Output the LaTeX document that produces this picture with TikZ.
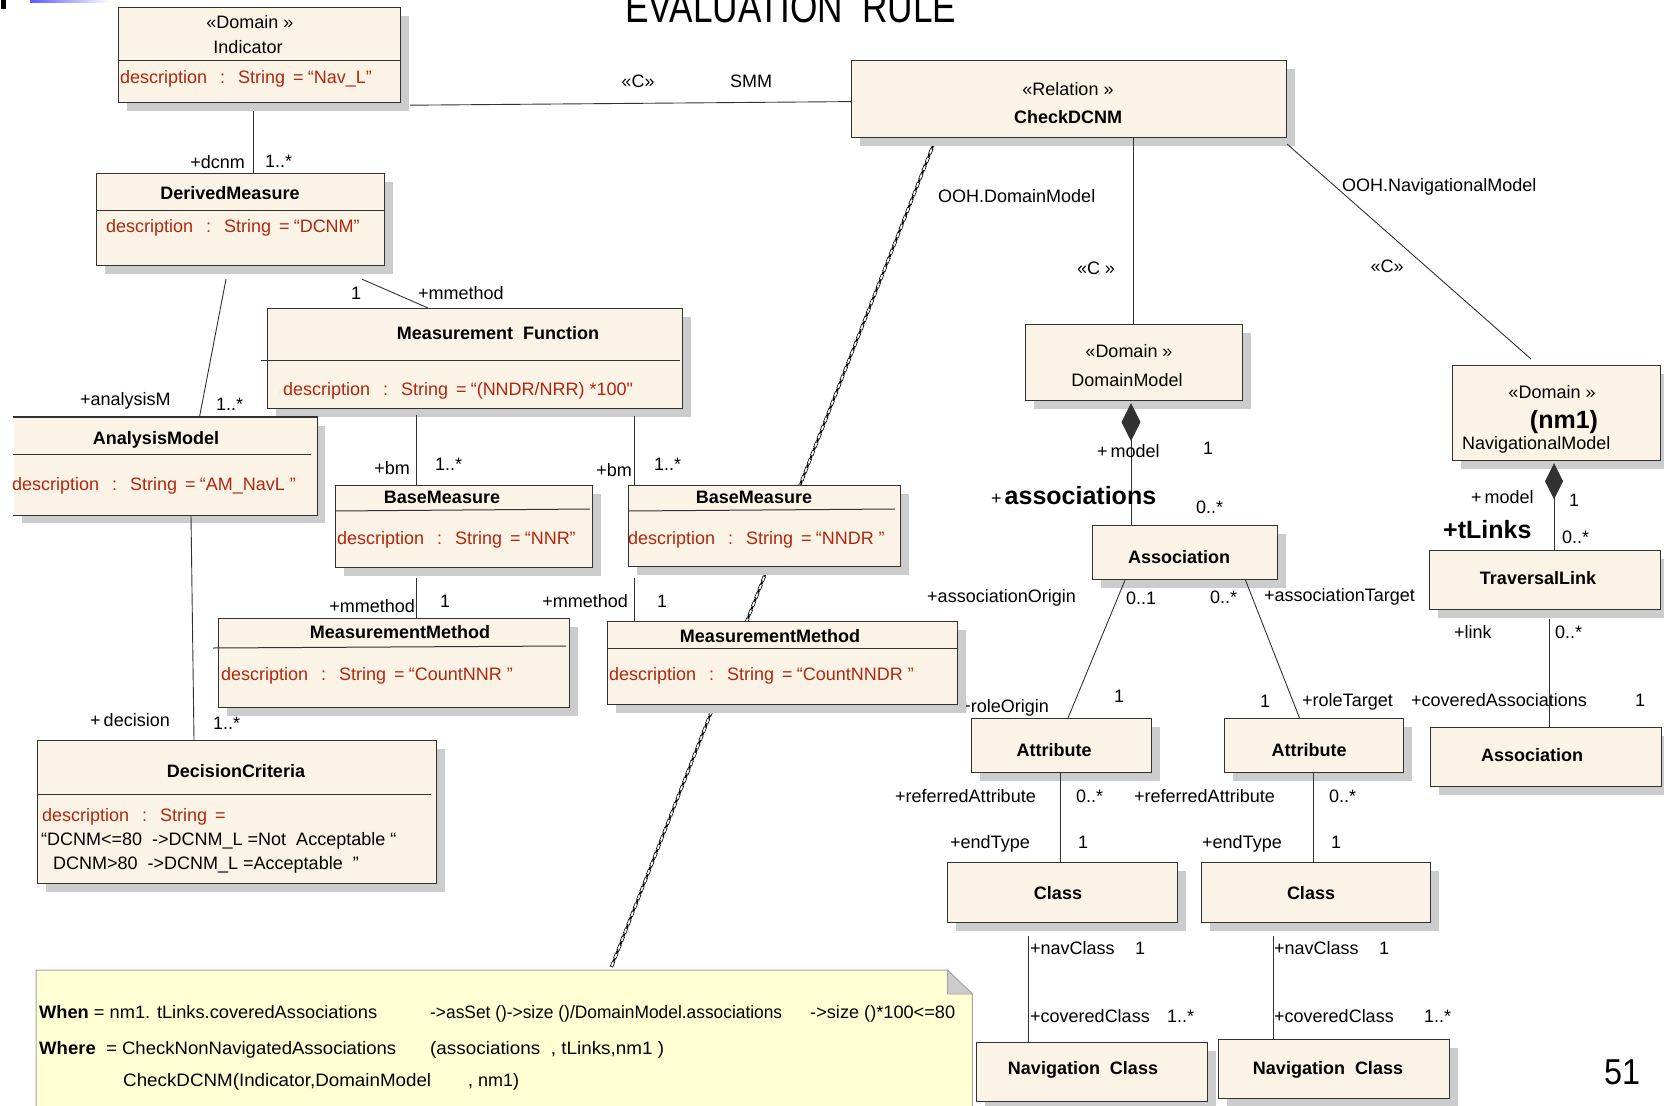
\documentclass[tikz,border=0pt]{standalone}
\usepackage{fontspec}
\usepackage{graphicx}
\setmainfont{Liberation Sans}
\newfontfamily\rawsans{Liberation Sans}
\usetikzlibrary{arrows.meta,shadows,decorations.markings,calc}

\definecolor{boxfill}{RGB}{251,243,230}
\definecolor{boxdraw}{RGB}{50,50,50}
\definecolor{shadowc}{RGB}{204,204,204}
\definecolor{attrred}{RGB}{178,38,14}
\definecolor{notefill}{RGB}{255,255,212}
\definecolor{notedraw}{RGB}{165,165,165}
\definecolor{linec}{RGB}{50,50,50}

\newcommand{\umlfont}{\fontsize{18}{20}\selectfont}
\newcommand{\bigbold}{\fontsize{25}{28}\selectfont\bfseries}
\newcommand{\attrtext}[1]{description\hspace{13pt}:\hspace{13pt}String\hspace{8pt}=\hspace{4pt}#1}
\newcommand{\fitto}[2]{\resizebox{#1}{\height}{#2}}
\newcommand{\straightq}{{\rawsans"}}

\begin{document}
\begin{tikzpicture}[x=1pt,y=-1pt,
  umlbox/.style={draw=boxdraw, fill=boxfill, line width=1.2pt, inner sep=0pt,
    anchor=north west,
    drop shadow={shadow xshift=8pt, shadow yshift=-8pt, fill=shadowc, opacity=1}},
  conn/.style={draw=linec, line width=0.9pt},
  divider/.style={draw=boxdraw, line width=1pt},
  txt/.style={inner sep=0pt, font=\umlfont, text height=14.5pt, text depth=2pt},
  ttl/.style={txt, font=\umlfont\bfseries},
  attr/.style={txt, text=attrred, anchor=west},
  lw/.style={txt, anchor=west},
  le/.style={txt, anchor=east},
  notetxt/.style={txt, anchor=west},
  markline/.style={
    postaction={decorate, decoration={markings,
      mark=between positions 0 and 1 step 9pt with
        {\draw[line width=0.6pt, fill=white] (-2.6pt,-1.3pt) rectangle (2.6pt,1.3pt);}}},
    postaction={decorate, decoration={markings,
      mark=between positions 4.5pt and 1 step 9pt with
        {\fill (-1.3pt,-1.1pt) rectangle (1.3pt,1.1pt);}}}}
]
\useasboundingbox (0,0) rectangle (1664,1105);

% corner decorations of the slide
\fill[black] (1,0) rectangle (6,9);
\shade[left color=blue!65, right color=white] (30,0) rectangle (110,2.5);

% slide title
\node[anchor=base west, inner sep=0pt, font=\fontsize{44}{48}\selectfont] (title) at (625,23)
  {\scalebox{0.8}[1]{EVALUATION\ \ RULE}};

% note in the lower left
\node[minimum width=936pt, minimum height=145pt, inner sep=0pt, anchor=north west] (note) at (36,970) {};
\filldraw[fill=notefill, draw=notedraw, line width=1pt]
  (note.north west) -- ([xshift=-25pt]note.north east) -- ([yshift=-24pt]note.north east)
  -- (note.south east) -- (note.south west) -- cycle;
\filldraw[fill=shadowc, draw=notedraw, line width=0.8pt]
  ([xshift=-25pt]note.north east) -- ([xshift=-25pt,yshift=-24pt]note.north east)
  -- ([yshift=-24pt]note.north east) -- cycle;

% dependency from the relation down to the note (passes behind the classes)
\coordinate (depA) at (934,143);
\coordinate (depB) at (611,968);
\path[markline] (depA) -- (depB);

% label partly hidden by the shadow of the second measurement method
\node[le] (lroleO) at (1049,706) {+roleOrigin};

% ---------------- classes ----------------
\node[umlbox, minimum width=282pt, minimum height=95pt] (ind) at (118,7) {};
\node[umlbox, minimum width=288pt, minimum height=92pt] (dm) at (96,173) {};
\node[umlbox, minimum width=435pt, minimum height=77pt] (chk) at (851,60) {};
\node[umlbox, minimum width=415pt, minimum height=100pt] (mf) at (267,308) {};
\node[umlbox, draw=none, minimum width=303pt, minimum height=97pt] (am) at (13,417) {};
\draw[boxdraw, line width=1.2pt] (am.north west) -- (am.north east) -- (am.south east) -- (am.south west);
\node[umlbox, minimum width=257pt, minimum height=82pt] (bm1) at (335,485) {};
\node[umlbox, minimum width=272pt, minimum height=81pt] (bm2) at (628,485) {};
\node[umlbox, minimum width=351pt, minimum height=89pt] (mm1) at (218,618) {};
\node[umlbox, minimum width=350pt, minimum height=83pt] (mm2) at (607,621) {};
\node[umlbox, minimum width=399pt, minimum height=143pt] (dc) at (37,740) {};
\node[umlbox, minimum width=217pt, minimum height=76pt] (dom) at (1025,324) {};
\node[umlbox, minimum width=185pt, minimum height=54pt] (asc) at (1092,525) {};
\node[umlbox, minimum width=208pt, minimum height=95pt] (nav) at (1452,365) {};
\node[umlbox, minimum width=231pt, minimum height=59pt] (tl) at (1429,550) {};
\node[umlbox, minimum width=231pt, minimum height=59pt] (asc2) at (1430,727) {};
\node[umlbox, minimum width=180pt, minimum height=54pt] (at1) at (971,718) {};
\node[umlbox, minimum width=179pt, minimum height=54pt] (at2) at (1224,718) {};
\node[umlbox, minimum width=230pt, minimum height=60pt] (cl1) at (947,862) {};
\node[umlbox, minimum width=229pt, minimum height=60pt] (cl2) at (1201,862) {};
\node[umlbox, minimum width=231pt, minimum height=59pt] (nc1) at (976,1042) {};
\node[umlbox, minimum width=231pt, minimum height=59pt] (nc2) at (1218,1039) {};

% compartment dividers
\draw[divider] (118,61) -- (400,61);
\draw[divider] (96,210) -- (384,210);
\draw[divider] (261,360) -- (680,360);
\draw[divider] (13,454) -- (311,454);
\draw[divider] (335,511) -- (590,509);
\draw[divider] (628,511) -- (895,509);
\draw[divider] (213,648) -- (566,646);
\draw[divider] (607,648) -- (957,648);
\draw[divider] (37,794) -- (431,794);

% ---------------- class texts ----------------
\node[txt] (indS) at (250,22) {«Domain »};
\node[txt] (indN) at (248,47) {Indicator};
\node[attr] (indA) at (120,77) {\attrtext{“Nav\_L”}};

\node[ttl] (dmN) at (230,193) {DerivedMeasure};
\node[attr] (dmA) at (106,226) {\attrtext{“DCNM”}};

\node[txt] (chkS) at (1068,89) {«Relation »};
\node[ttl] (chkN) at (1068,117) {CheckDCNM};

\node[ttl] (mfN) at (498,333) {Measurement\ \ Function};
\node[attr] (mfA) at (283,389) {\attrtext{“(NNDR/NRR) *100\straightq}};

\node[ttl] (amN) at (156,438) {AnalysisModel};
\node[attr] (amA) at (12,484) {\attrtext{“AM\_NavL ”}};

\node[ttl] (bm1N) at (442,497) {BaseMeasure};
\node[attr] (bm1A) at (337,538) {\attrtext{“NNR”}};

\node[ttl] (bm2N) at (754,497) {BaseMeasure};
\node[attr] (bm2A) at (628,538) {\attrtext{“NNDR ”}};

\node[ttl] (mm1N) at (400,632) {MeasurementMethod};
\node[attr] (mm1A) at (221,674) {\attrtext{“CountNNR ”}};

\node[ttl] (mm2N) at (770,636) {MeasurementMethod};
\node[attr] (mm2A) at (609,674) {\attrtext{“CountNNDR ”}};

\node[ttl] (dcN) at (236,771) {DecisionCriteria};
\node[attr] (dcA) at (42,815) {description\hspace{13pt}:\hspace{13pt}String\hspace{8pt}=};
\node[lw] (dcB) at (41,839) {“DCNM<=80\ \ ->DCNM\_L =Not\ \ Acceptable “};
\node[lw] (dcC) at (53,863) {DCNM>80\ \ ->DCNM\_L =Acceptable\ \ ”};

\node[txt] (domS) at (1129,351) {«Domain »};
\node[txt] (domN) at (1127,380) {DomainModel};

\node[ttl] (ascN) at (1179,557) {Association};

\node[txt] (navS) at (1552,392) {«Domain »};
\node[txt, font=\bigbold] (navB) at (1564,422) {(nm1)};
\node[lw] (navN) at (1462,443) {NavigationalModel};

\node[ttl] (tlN) at (1538,578) {TraversalLink};
\node[ttl] (asc2N) at (1532,755) {Association};
\node[ttl] (at1N) at (1054,750) {Attribute};
\node[ttl] (at2N) at (1309,750) {Attribute};
\node[ttl] (cl1N) at (1058,893) {Class};
\node[ttl] (cl2N) at (1311,893) {Class};
\node[ttl] (nc1N) at (1083,1068) {Navigation\ \ Class};
\node[ttl] (nc2N) at (1328,1068) {Navigation\ \ Class};

% ---------------- connectors ----------------
\draw[conn] ([xshift=135.6pt,yshift=-8pt]ind.south west) -- ([xshift=157.6pt]dm.north west);
\draw[conn] ([xshift=9pt,yshift=-2pt]ind.south east) -- ([yshift=-2.5pt]chk.west);
\draw[conn] ([xshift=282pt]chk.south west) -- ([xshift=108pt]dom.north west);
\draw[conn] ([yshift=-6pt]chk.south east) -- ([xshift=79pt,yshift=6pt]nav.north west);
\draw[conn] ([xshift=266pt,yshift=-13pt]dm.south west) -- ([xshift=161pt]mf.north west);
\draw[conn] ([xshift=130pt,yshift=-13pt]dm.south west) -- ([xshift=186.5pt]am.north west);
\draw[conn] ([xshift=149.5pt,yshift=-6pt]mf.south west) -- ([xshift=81.5pt]bm1.north west);
\draw[conn] ([xshift=367pt,yshift=-7pt]mf.south west) -- ([xshift=6pt]bm2.north west);
\draw[conn] ([xshift=81.5pt,yshift=-10pt]bm1.south west) -- ([xshift=198.5pt]mm1.north west);
\draw[conn] ([xshift=6pt,yshift=-11pt]bm2.south west) -- ([xshift=27pt]mm2.north west);
\draw[conn] ([xshift=178pt]am.south west) -- ([xshift=157pt]dc.north west);
\draw[conn, {Diamond[length=38pt,width=19pt]}-] ([xshift=106pt,yshift=-2pt]dom.south west) -- ([xshift=39pt]asc.north west);
\draw[conn, {Diamond[length=36pt,width=18pt]}-] ([xshift=102pt,yshift=-2pt]nav.south west) -- ([xshift=125pt]tl.north west);
\draw[conn] ([xshift=120.5pt,yshift=-9pt]tl.south west) -- ([xshift=119.5pt]asc2.north west);
\draw[conn] ([xshift=33pt]asc.south west) -- ([xshift=97pt]at1.north west);
\draw[conn] ([xshift=153.5pt]asc.south west) -- ([xshift=75.5pt]at2.north west);
\draw[conn] ([xshift=89.5pt]at1.south west) -- ([xshift=113.5pt]cl1.north west);
\draw[conn] ([xshift=89pt]at2.south west) -- ([xshift=112pt]cl2.north west);
\draw[conn] ([xshift=81pt,yshift=-13pt]cl1.south west) -- ([xshift=52pt]nc1.north west);
\draw[conn] ([xshift=72pt,yshift=-13pt]cl2.south west) -- ([xshift=55pt]nc2.north west);

% ---------------- association end labels ----------------
\node[txt] (lC1) at (638,81) {«C»};
\node[txt] (lSMM) at (751,81) {SMM};
\node[le] (ldcnm) at (245,162) {+dcnm};
\node[lw] (ldcnmM) at (265,161) {1..*};
\node[lw] (lOOHd) at (938,196) {OOH.DomainModel};
\node[txt] (lC2) at (1096,268) {«C »};
\node[lw] (lOOHn) at (1342,185) {OOH.NavigationalModel};
\node[txt] (lC3) at (1387,266) {«C»};
\node[txt] (lmf1) at (356,293) {1};
\node[lw] (lmfR) at (418,293) {+mmethod};
\node[lw] (lanR) at (80,399) {+analysisM};
\node[lw] (lanM) at (216,404) {1..*};
\node[le] (lbm1R) at (410,468) {+bm};
\node[lw] (lbm1M) at (435,464) {1..*};
\node[le] (lbm2R) at (632,470) {+bm};
\node[lw] (lbm2M) at (654,464) {1..*};
\node[le] (lmm1R) at (415,606) {+mmethod};
\node[lw] (lmm1M) at (440,601) {1};
\node[le] (lmm2R) at (628,601) {+mmethod};
\node[lw] (lmm2M) at (657,601) {1};
\node[le] (ldecR) at (170,720) {+\,decision};
\node[lw] (ldecM) at (213,723) {1..*};
\node[lw] (lmodel1) at (1097,451) {+\,model};
\node[lw] (lmodel1M) at (1203,448) {1};
\node[lw] (lassoc) at (991,498) {+\,{\bigbold associations}};
\node[lw] (lassocM) at (1196,507) {0..*};
\node[lw] (lmodel2) at (1471,497) {+\,model};
\node[lw] (lmodel2M) at (1569,500) {1};
\node[lw, font=\bigbold] (ltl) at (1443,532) {+tLinks};
\node[lw] (ltlM) at (1562,537) {0..*};
\node[le] (laOrig) at (1076,596) {+associationOrigin};
\node[lw] (laOrigM) at (1126,598) {0..1};
\node[lw] (laTargM) at (1210,597) {0..*};
\node[lw] (laTarg) at (1264,595) {+associationTarget};
\node[lw] (lroleOM) at (1114,696) {1};
\node[lw] (lroleTM) at (1260,701) {1};
\node[lw] (lroleT) at (1302,700) {+roleTarget};
\node[lw] (lcovA) at (1411,700) {+coveredAssociations};
\node[lw] (lcovAM) at (1635,700) {1};
\node[lw] (llink) at (1454,632) {+link};
\node[lw] (llinkM) at (1555,632) {0..*};
\node[lw] (lref1) at (895,796) {+referredAttribute};
\node[lw] (lref1M) at (1076,796) {0..*};
\node[lw] (lref2) at (1134,796) {+referredAttribute};
\node[lw] (lref2M) at (1329,796) {0..*};
\node[lw] (lend1) at (950,842) {+endType};
\node[lw] (lend1M) at (1078,842) {1};
\node[lw] (lend2) at (1202,842) {+endType};
\node[lw] (lend2M) at (1331,842) {1};
\node[lw] (lnav1) at (1030,948) {+navClass};
\node[lw] (lnav1M) at (1135,948) {1};
\node[lw] (lnav2) at (1274,948) {+navClass};
\node[lw] (lnav2M) at (1379,948) {1};
\node[lw] (lcov1) at (1030,1016) {+coveredClass};
\node[lw] (lcov1M) at (1167,1016) {1..*};
\node[lw] (lcov2) at (1274,1016) {+coveredClass};
\node[lw] (lcov2M) at (1424,1016) {1..*};

% ---------------- note text ----------------
\node[notetxt] (nw1) at (39,1012) {\fitto{338pt}{\textbf{When} = nm1. tLinks.coveredAssociations}};
\node[notetxt] (nw2) at (430,1012) {\fitto{352pt}{->asSet ()->size ()/DomainModel.associations}};
\node[notetxt] (nw3) at (810,1012) {\fitto{145pt}{->size ()*100<=80}};
\node[notetxt] (nh1) at (39,1048) {\fitto{357pt}{\textbf{Where}\ \ = CheckNonNavigatedAssociations}};
\node[notetxt] (nh2) at (430,1048) {\fitto{234pt}{(associations\ \ , tLinks,nm1 )}};
\node[notetxt] (nh3) at (123,1080) {\fitto{308pt}{CheckDCNM(Indicator,DomainModel}};
\node[notetxt] (nh4) at (468,1080) {, nm1)};

% page number
\node[inner sep=0pt, font=\fontsize{36}{40}\selectfont] (pageno) at (1622,1072) {\scalebox{0.9}[1]{51}};
\end{tikzpicture}
\end{document}
